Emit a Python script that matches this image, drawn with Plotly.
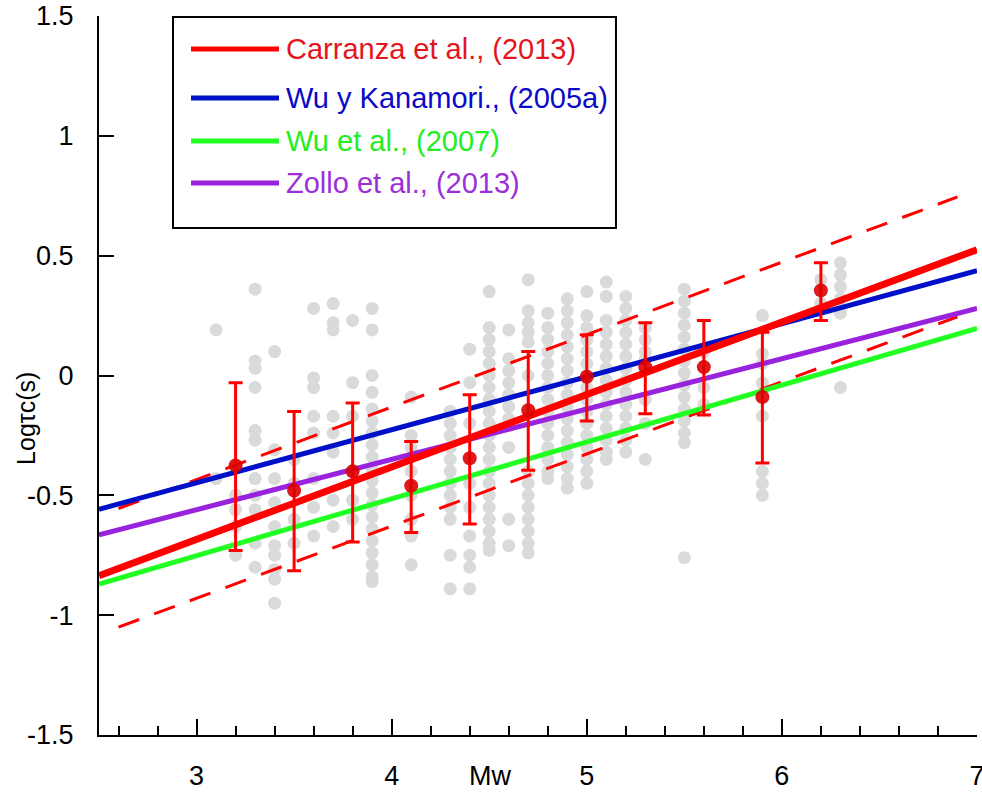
import plotly.graph_objects as go

# ---- Observations: log(tau_c) per magnitude column ----
column_mw = [3.1, 3.2, 3.3, 3.4, 3.5, 3.6, 3.7, 3.8, 3.9, 4.1, 4.3, 4.4, 4.5,
             4.6, 4.7, 4.8, 4.9, 5.0, 5.1, 5.2, 5.3, 5.5, 5.6, 5.9, 6.2, 6.3]
column_logtc = [
    [0.19, -0.43],
    [-0.38, -0.50, -0.56, -0.63, -0.75],
    [0.36, 0.06, 0.03, -0.05, -0.23, -0.27, -0.43, -0.50, -0.56, -0.70, -0.80],
    [0.10, -0.31, -0.43, -0.53, -0.63, -0.71, -0.75, -0.81, -0.85, -0.95],
    [-0.35, -0.45, -0.60, -0.70],
    [0.28, -0.01, -0.05, -0.17, -0.24, -0.43, -0.55, -0.67],
    [0.30, 0.22, 0.19, -0.17, -0.24, -0.32, -0.52, -0.63],
    [0.23, -0.03, -0.17, -0.40, -0.52, -0.60],
    [0.28, 0.19, 0.00, -0.07, -0.14, -0.19, -0.24, -0.29, -0.34, -0.39, -0.44,
     -0.49, -0.54, -0.59, -0.64, -0.69, -0.74, -0.79, -0.84, -0.86],
    [-0.09, -0.25, -0.30, -0.40, -0.50, -0.60, -0.67, -0.79],
    [-0.15, -0.20, -0.25, -0.30, -0.35, -0.40, -0.45, -0.50, -0.55, -0.60,
     -0.75, -0.89],
    [0.11, -0.03, -0.20, -0.45, -0.55, -0.67, -0.75, -0.80, -0.89],
    [0.35, 0.20, 0.15, 0.10, 0.05, 0.00, -0.05, -0.10, -0.15, -0.20, -0.25,
     -0.30, -0.35, -0.40, -0.45, -0.50, -0.55, -0.60, -0.65, -0.70, -0.73],
    [0.19, 0.07, 0.02, -0.03, -0.08, -0.13, -0.18, -0.21, -0.30, -0.60, -0.71],
    [0.40, 0.27, 0.22, 0.18, 0.14, 0.00, -0.40, -0.45, -0.50, -0.55, -0.60,
     -0.65, -0.70, -0.74],
    [0.26, 0.20, 0.15, 0.10, 0.05, 0.00, -0.05, -0.10, -0.15, -0.20, -0.25,
     -0.30, -0.35, -0.40, -0.43],
    [0.32, 0.27, 0.22, 0.17, 0.12, 0.07, 0.02, -0.03, -0.08, -0.13, -0.18,
     -0.23, -0.28, -0.33, -0.38, -0.43, -0.47],
    [0.35, 0.25, 0.20, 0.15, 0.10, 0.05, 0.00, -0.05, -0.10, -0.15, -0.20,
     -0.25, -0.30, -0.35, -0.40, -0.45],
    [0.39, 0.33, 0.23, 0.18, 0.13, 0.08, 0.03, -0.02, -0.07, -0.12, -0.17,
     -0.22, -0.27, -0.32, -0.35],
    [0.33, 0.28, 0.23, 0.18, 0.13, 0.08, 0.03, -0.02, -0.07, -0.12, -0.17,
     -0.22, -0.27, -0.32],
    [0.20, 0.15, 0.10, 0.07, -0.10, -0.20, -0.35],
    [0.36, 0.31, 0.26, 0.21, 0.16, 0.11, 0.06, 0.01, -0.04, -0.09, -0.14,
     -0.19, -0.24, -0.28, -0.76],
    [0.10, -0.05, -0.12],
    [0.25, 0.09, 0.05, -0.03, -0.17, -0.40, -0.45, -0.50],
    [0.30, 0.40],
    [0.47, 0.42, 0.37, 0.32, 0.26, -0.05],
]

# ---- Binned means with one standard deviation ----
bin_mw = [3.2, 3.5, 3.8, 4.1, 4.4, 4.7, 5.0, 5.3, 5.6, 5.9, 6.2]
bin_mean = [-0.375, -0.48, -0.40, -0.46, -0.345, -0.145, -0.005, 0.035, 0.035, -0.09, 0.355]
bin_err_up = [0.345, 0.33, 0.285, 0.185, 0.265, 0.245, 0.175, 0.185, 0.195, 0.27, 0.115]
bin_err_down = [0.355, 0.335, 0.295, 0.195, 0.275, 0.25, 0.185, 0.195, 0.20, 0.275, 0.125]

# ---- Scaling relations (end points over the magnitude range) ----
line_mw = [2.5, 7.0]
carranza_y = [-0.835, 0.525]
wu_kanamori_y = [-0.558, 0.437]
wu2007_y = [-0.870, 0.197]
zollo_y = [-0.665, 0.280]

band_mw = [2.6, 6.9]
band_upper_y = [-0.555, 0.745]
band_lower_y = [-1.050, 0.245]

legend_labels = ["Carranza et al., (2013)", "Wu y Kanamori., (2005a)",
                 "Wu et al., (2007)", "Zollo et al., (2013)"]
line_colors = ["#ff0000", "#0010c8", "#22ff22", "#9922dd"]
text_colors = ["#e4141c", "#0a0ac8", "#22ee22", "#9b30d9"]

x_ticks = [3, 4, 5, 6, 7]
y_ticks = [-1.5, -1.0, -0.5, 0.0, 0.5, 1.0, 1.5]
y_tick_text = ["-1.5", "-1", "-0.5", "0", "0.5", "1", "1.5"]

FONT = "Arial, Liberation Sans, sans-serif"

gray_x, gray_y = [], []
for mw, vals in zip(column_mw, column_logtc):
    gray_x += [mw] * len(vals)
    gray_y += vals

fig = go.Figure()

fig.add_trace(go.Scatter(
    x=gray_x, y=gray_y, mode="markers",
    marker=dict(size=13, color="#d9dada", line=dict(width=0)),
    showlegend=False, hoverinfo="skip"))

for yy in (band_upper_y, band_lower_y):
    fig.add_trace(go.Scatter(
        x=band_mw, y=yy, mode="lines",
        line=dict(color="#ff0000", width=3, dash="22px,16px"),
        showlegend=False))

for yy, col, w in ((wu2007_y, line_colors[2], 5), (zollo_y, line_colors[3], 5),
                   (wu_kanamori_y, line_colors[1], 5), (carranza_y, line_colors[0], 7)):
    fig.add_trace(go.Scatter(
        x=line_mw, y=yy, mode="lines",
        line=dict(color=col, width=w), showlegend=False))

fig.add_trace(go.Scatter(
    x=bin_mw, y=bin_mean, mode="markers",
    marker=dict(size=14, color="#dd0000", opacity=0.9, line=dict(width=0)),
    error_y=dict(type="data", symmetric=False, array=bin_err_up,
                 arrayminus=bin_err_down, color="#ff0000", thickness=3, width=7),
    showlegend=False))

# ---- Legend box drawn in paper coordinates ----
shapes = [dict(type="rect", xref="paper", yref="paper",
               x0=0.0843, x1=0.5888, y0=0.705, y1=0.9986,
               line=dict(color="black", width=2), fillcolor="white", layer="above")]
annotations = []
row_y = [0.9541, 0.8860, 0.8262, 0.7677]
for lab, lc, tc, ry in zip(legend_labels, line_colors, text_colors, row_y):
    shapes.append(dict(type="line", xref="paper", yref="paper",
                       x0=0.1048, x1=0.2050, y0=ry, y1=ry,
                       line=dict(color=lc, width=5), layer="above"))
    annotations.append(dict(xref="paper", yref="paper", x=0.211, y=ry,
                            text=lab, showarrow=False, xanchor="left",
                            yanchor="middle", font=dict(family=FONT, size=29, color=tc)))

annotations.append(dict(xref="paper", yref="paper", x=0.445, y=-0.057,
                        text="Mw", showarrow=False, xanchor="center", yanchor="middle",
                        font=dict(family=FONT, size=27, color="black")))
annotations.append(dict(xref="paper", yref="paper", x=-0.084, y=0.44,
                        text="Logτc(s)", showarrow=False, textangle=-90,
                        xanchor="center", yanchor="middle",
                        font=dict(family=FONT, size=25, color="black")))

fig.update_layout(
    width=982, height=794,
    margin=dict(l=99, r=5, t=16, b=59, autoexpand=False),
    paper_bgcolor="white", plot_bgcolor="white",
    font=dict(family=FONT, size=27, color="black"),
    shapes=shapes, annotations=annotations,
    xaxis=dict(range=[2.5, 7.0], showgrid=False, zeroline=False,
               showline=True, linecolor="black", linewidth=2, automargin=False,
               ticks="inside", ticklen=16, tickwidth=2, tickcolor="black",
               tickmode="array", tickvals=x_ticks, ticklabelstandoff=16,
               ticklabeloverflow="allow",
               tickfont=dict(family=FONT, size=27, color="black"),
               minor=dict(ticks="inside", ticklen=9, tickwidth=2,
                          tickcolor="black", tickmode="linear", tick0=0, dtick=0.2)),
    yaxis=dict(range=[-1.5, 1.5], showgrid=False, zeroline=False,
               showline=True, linecolor="black", linewidth=2, automargin=False,
               ticks="inside", ticklen=15, tickwidth=2, tickcolor="black",
               tickmode="array", tickvals=y_ticks, ticktext=y_tick_text,
               ticklabelstandoff=18,
               tickfont=dict(family=FONT, size=27, color="black")),
)

fig.write_html("out.html")
